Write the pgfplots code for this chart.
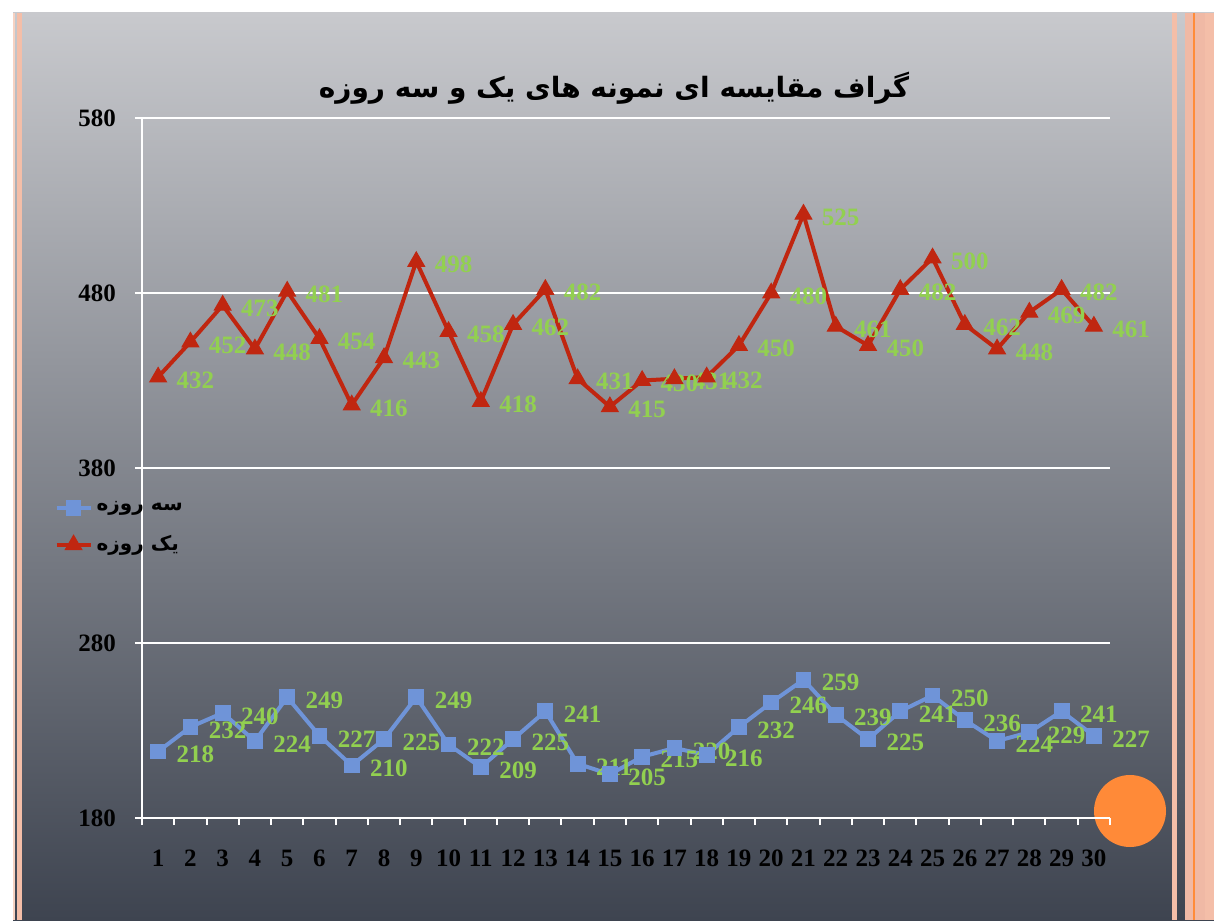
\documentclass[border=0pt]{standalone}
\usepackage{fontspec}
\setmainfont{Liberation Serif}
\newfontfamily\arabicfont[Script=Arabic]{DejaVu Sans}
\TeXXeTstate=1
\usepackage{pgfplots}
\pgfplotsset{compat=1.18}
\definecolor{redl}{RGB}{192,38,16}
\definecolor{bluel}{RGB}{111,148,216}
\definecolor{lab}{RGB}{146,208,80}
\definecolor{bgtop}{RGB}{200,201,205}
\definecolor{bgbot}{RGB}{62,68,80}
\definecolor{salmon}{RGB}{244,190,168}
\definecolor{salmonb}{RGB}{240,185,165}
\definecolor{orangel}{RGB}{255,140,58}
\definecolor{orangec}{RGB}{255,138,56}

\pgfplotstableread{
x y
1 218
2 232
3 240
4 224
5 249
6 227
7 210
8 225
9 249
10 222
11 209
12 225
13 241
14 211
15 205
16 215
17 220
18 216
19 232
20 246
21 259
22 239
23 225
24 241
25 250
26 236
27 224
28 229
29 241
30 227
}\threeday

\pgfplotstableread{
x y
1 432
2 452
3 473
4 448
5 481
6 454
7 416
8 443
9 498
10 458
11 418
12 462
13 482
14 431
15 415
16 430
17 431
18 432
19 450
20 480
21 525
22 461
23 450
24 482
25 500
26 462
27 448
28 469
29 482
30 461
}\oneday

\begin{document}
\begin{tikzpicture}
\begin{scope}[x=0.5pt,y=-0.5pt]
\fill[white] (0,0) rectangle (1214,920);
\shade[top color=bgtop, bottom color=bgbot] (13,13) rectangle (1214,920);
% left stripes
\fill[salmon!70!white] (13,13) rectangle (15,920);
\fill[salmon] (17,13) rectangle (22,920);
% right stripes
\fill[salmon] (1172,13) rectangle (1177,920);
\fill[salmonb] (1185,13) rectangle (1214,920);
\fill[orangel] (1193,13) rectangle (1195,920);
\fill[salmon] (1205,13) rectangle (1214,920);
% orange circle
\fill[orangec] (1130,811) circle (36);
% title
\node[font=\arabicfont\bfseries\fontsize{14}{16}\selectfont, text=black] at (614,88) {\beginR گراف مقایسه ای نمونه های یک و سه روزه\endR};
\end{scope}

\begin{axis}[
  at={(71pt,-409pt)}, anchor=south west,
  scale only axis, width=484pt, height=350pt,
  xmin=0.5, xmax=30.5, ymin=180, ymax=580,
  axis x line=bottom, axis y line=left,
  axis line style={white, line width=1pt, -},
  ytick={180,280,380,480,580},
  ymajorgrids, grid style={white, line width=1pt},
  xtick={1,...,30},
  minor xtick={0.5,1.5,...,30.5},
  tick align=outside,
  major tick length=3.5pt,
  minor tick length=3.5pt,
  every major x tick/.append style={draw=none},
  every minor x tick/.append style={white, line width=1pt},
  every major y tick/.append style={white, line width=1pt},
  /pgf/number format/assume math mode=true,
  ticklabel style={font=\bfseries\fontsize{12.5}{13}\selectfont, text=black},
  xticklabel style={yshift=-9pt},
  yticklabel style={xshift=-6pt},
  legend style={at={(axis description cs:-0.097,0.464)}, anchor=north west, draw=none, fill=none,
     font=\arabicfont\bfseries\fontsize{10}{11}\selectfont, row sep=7pt},
  legend cell align=left,
  nodes near coords,
  every node near coord/.append style={anchor=west, xshift=9pt, yshift=-1.5pt, inner sep=0pt,
     font=\bfseries\fontsize{12.5}{13}\selectfont, text=lab},
  clip=false,
]
\addplot[bluel, line width=2pt, mark=square*, mark size=3.7pt, mark options={solid, fill=bluel, draw=bluel, line width=0.5pt}] table[x=x,y=y] {\threeday};
\addlegendentry{\beginR سه روزه\endR}
\addplot[redl, line width=2pt, mark=triangle*, mark size=4.8pt, mark options={solid, fill=redl, draw=redl, line width=0.5pt}] table[x=x,y=y] {\oneday};
\addlegendentry{\beginR یک روزه\endR}
\end{axis}
\end{tikzpicture}
\end{document}
